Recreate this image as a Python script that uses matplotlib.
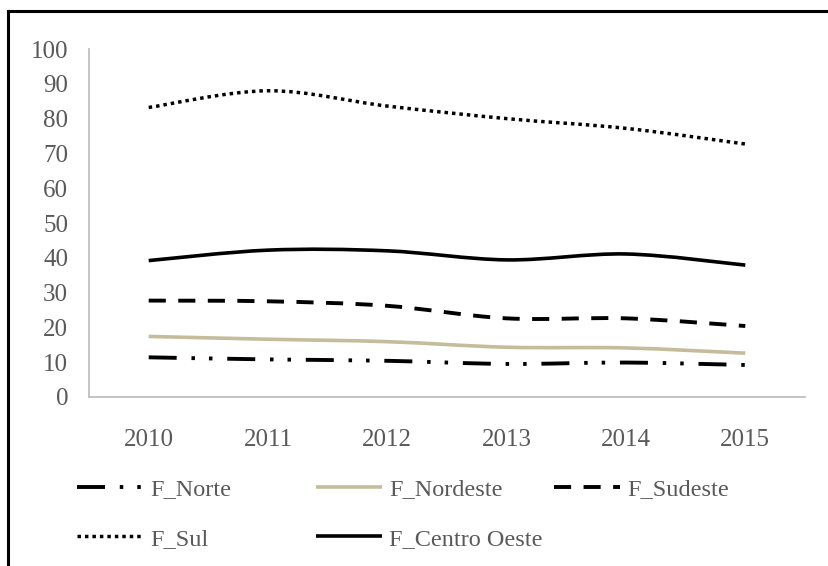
import numpy as np
import matplotlib
matplotlib.use("Agg")
import matplotlib.pyplot as plt
from matplotlib.path import Path
from matplotlib.patches import PathPatch
from matplotlib.lines import Line2D

# data
anos = ["2010", "2011", "2012", "2013", "2014", "2015"]
f_norte = [11.4, 10.8, 10.4, 9.5, 9.9, 9.2]
f_nordeste = [17.4, 16.6, 15.9, 14.3, 14.1, 12.6]
f_sudeste = [27.7, 27.5, 26.2, 22.6, 22.6, 20.4]
f_sul = [83.2, 88.0, 83.6, 80.0, 77.2, 72.7]
f_centro_oeste = [39.2, 42.2, 42.0, 39.4, 41.1, 37.9]

TXT = "#595959"
plt.rcParams['font.family'] = ['Liberation Serif', 'DejaVu Serif']


def smooth_path(xs, ys, t=1/6):
    # excel-like smoothed line as cubic bezier segments
    pts = np.column_stack([xs, ys]).astype(float)
    verts = [pts[0]]
    codes = [Path.MOVETO]
    n = len(pts)
    for i in range(n - 1):
        p0 = pts[i - 1] if i > 0 else pts[i]
        p1 = pts[i]
        p2 = pts[i + 1]
        p3 = pts[i + 2] if i + 2 < n else pts[i + 1]
        verts += [p1 + (p2 - p0) * t, p2 - (p3 - p1) * t, p2]
        codes += [Path.CURVE4] * 3
    return Path(verts, codes)


series = [
    ("F_Norte", f_norte, dict(color="black", lw=2.8, ls=(0, (7.2, 3.8, 0.9, 3.6, 0.9, 3.8)))),
    ("F_Nordeste", f_nordeste, dict(color="#c4bc9a", lw=2.6, ls="-")),
    ("F_Sudeste", f_sudeste, dict(color="black", lw=2.8, ls=(0, (4.4, 3.2)))),
    ("F_Sul", f_sul, dict(color="black", lw=2.5, ls=(0, (1, 1.15)))),
    ("F_Centro Oeste", f_centro_oeste, dict(color="black", lw=2.6, ls="-")),
]

fig = plt.figure(figsize=(8.29, 5.66), dpi=100)
ax = fig.add_axes([0.1074, 0.2986, 0.8636, 0.6148])

x = np.arange(len(anos))
handles = {}
for name, vals, st in series:
    patch = PathPatch(smooth_path(x, vals), fill=False, edgecolor=st["color"],
                      lw=st["lw"], linestyle=st["ls"], capstyle="butt")
    ax.add_patch(patch)
    handles[name] = Line2D([], [], color=st["color"], lw=st["lw"], ls=st["ls"],
                           solid_capstyle="butt", dash_capstyle="butt")

ax.set_xlim(-0.5, len(anos) - 0.5)
ax.set_ylim(0, 100)
ax.set_yticks(range(0, 101, 10))
ax.set_xticks(x)
ax.set_xticklabels(anos)
ax.tick_params(length=0, labelsize=18, colors=TXT)
ax.tick_params(axis="y", pad=15)
ax.tick_params(axis="x", pad=23)
for s in ["top", "right"]:
    ax.spines[s].set_visible(False)
for s in ["left", "bottom"]:
    ax.spines[s].set_color("#bfbfbf")
    ax.spines[s].set_linewidth(1.3)

# legend in three fixed-width columns, like excel
cols = [(["F_Norte", "F_Sul"], 77), (["F_Nordeste", "F_Centro Oeste"], 316), (["F_Sudeste"], 554)]
for names, px in cols:
    fig.legend([handles[n] for n in names], names, loc="upper left",
               bbox_to_anchor=(px / 829, 1 - 478 / 566), frameon=False,
               borderpad=0, borderaxespad=0, handlelength=2.7, handletextpad=0.3,
               labelspacing=1.15, fontsize=17.5, labelcolor=TXT)

# outer frame (top and left edges visible in the image)
fig.add_artist(Line2D([8 / 829, 1], [1 - 11 / 566, 1 - 11 / 566], color="black", lw=2.2,
                      transform=fig.transFigure))
fig.add_artist(Line2D([8 / 829, 8 / 829], [0, 1 - 11 / 566], color="black", lw=2.2,
                      transform=fig.transFigure))

fig.savefig("out.png", dpi=100)
